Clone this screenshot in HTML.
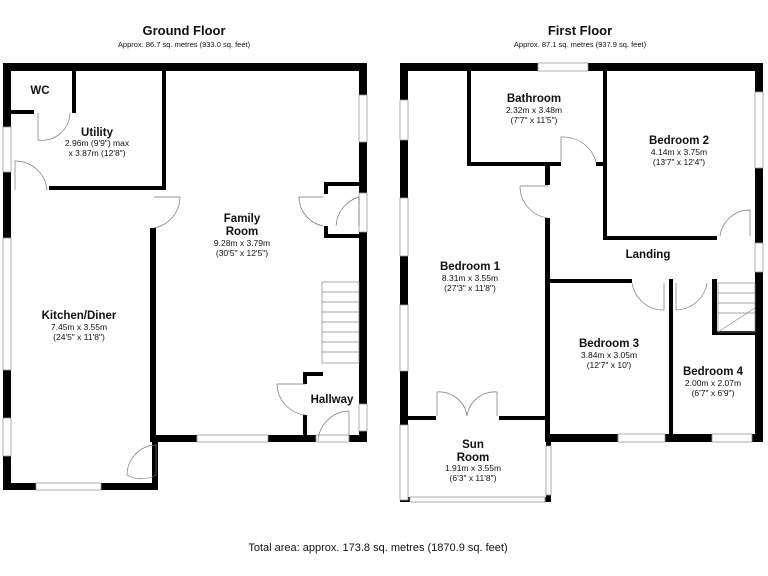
<!DOCTYPE html>
<html><head><meta charset="utf-8"><style>
body{margin:0;background:#fff}
svg{display:block}
text{font-family:"Liberation Sans",sans-serif;fill:#111;text-anchor:middle}
.t{font-weight:bold;font-size:13px}
.s{font-size:7.5px}
.r{font-weight:bold;font-size:11.5px}
.d{font-size:8.5px}
</style></head><body>
<svg width="768" height="576" viewBox="0 0 768 576">
<g fill="#000">
<!-- Ground floor walls -->
<rect x="3" y="63" width="364" height="8"/>
<rect x="3" y="63" width="8" height="427"/>
<rect x="359" y="63" width="8" height="379"/>
<rect x="152" y="435" width="215" height="7"/>
<rect x="3" y="483" width="155" height="7"/>
<rect x="150" y="228" width="6" height="214"/>
<rect x="152" y="442" width="6" height="48"/>
<rect x="72" y="71" width="4" height="42"/>
<rect x="11" y="110" width="23" height="4"/>
<rect x="49" y="186" width="117" height="4"/>
<rect x="162" y="71" width="4" height="119"/>
<rect x="303" y="372" width="20" height="4"/>
<rect x="303" y="372" width="4" height="12"/>
<rect x="303" y="415" width="4" height="22"/>
<rect x="324" y="182" width="36" height="4"/>
<rect x="324" y="182" width="4" height="12"/>
<rect x="324" y="226" width="4" height="12"/>
<rect x="324" y="234" width="36" height="4"/>
<!-- First floor walls -->
<rect x="400" y="63" width="363" height="8"/>
<rect x="400" y="63" width="8" height="439"/>
<rect x="755" y="63" width="8" height="379"/>
<rect x="545" y="434" width="218" height="8"/>
<rect x="467" y="71" width="4" height="95"/>
<rect x="467" y="162" width="94" height="4"/>
<rect x="596" y="162" width="11" height="4"/>
<rect x="603" y="71" width="4" height="169"/>
<rect x="603" y="236" width="114" height="4"/>
<rect x="545" y="166" width="5" height="19"/>
<rect x="545" y="218" width="5" height="224"/>
<rect x="407" y="416" width="29" height="4"/>
<rect x="499" y="416" width="48" height="4"/>
<rect x="550" y="279" width="82" height="4"/>
<rect x="669" y="279" width="4" height="155"/>
<rect x="712" y="279" width="5" height="56"/>
<rect x="712" y="331" width="43" height="4"/>
<rect x="400" y="497" width="151" height="5"/>
<rect x="546" y="442" width="5" height="60"/>
</g>
<!-- windows -->
<g fill="#fff" stroke="#999" stroke-width="0.8">
<rect x="3" y="127" width="8" height="45"/>
<rect x="3" y="238" width="8" height="132"/>
<rect x="3" y="418" width="8" height="38"/>
<rect x="359" y="95" width="8" height="47"/>
<rect x="359" y="193" width="8" height="39"/>
<rect x="359" y="404" width="8" height="27"/>
<rect x="197" y="435" width="71" height="7"/>
<rect x="36" y="483" width="65" height="7"/>
<rect x="316" y="435" width="33" height="7"/>
<rect x="400" y="100" width="8" height="40"/>
<rect x="400" y="198" width="8" height="58"/>
<rect x="400" y="305" width="8" height="66"/>
<rect x="400" y="425" width="8" height="75"/>
<rect x="538" y="63" width="50" height="8"/>
<rect x="755" y="92" width="8" height="76"/>
<rect x="755" y="243" width="8" height="29"/>
<rect x="618" y="434" width="47" height="8"/>
<rect x="712" y="434" width="40" height="8"/>
<rect x="546" y="446" width="5" height="49"/>
<rect x="410" y="497" width="135" height="5"/>
</g>
<!-- doors -->
<g fill="none" stroke="#777" stroke-width="0.7">
<path d="M38 113 V140 A28 28 0 0 0 70 113"/>
<path d="M15 161 A32 32 0 0 1 47 190 M15 161 V190"/>
<path d="M154 197 H180 A32 32 0 0 1 154 228"/>
<path d="M323 197 H299 A30 30 0 0 0 323 226"/>
<path d="M359 197 A32 32 0 0 0 336 226 M359 197 V226"/>
<path d="M305 384 H277 A32 32 0 0 0 305 415"/>
<path d="M349 411 A32 32 0 0 0 318 441 M349 411 V441"/>
<path d="M156 445 V475 A30 30 0 0 1 127 475 A30 30 0 0 1 156 445"/>
<path d="M561 162 V137 A34 34 0 0 1 596 162"/>
<path d="M548 186 H520 A32 32 0 0 0 548 218"/>
<path d="M720 236 A30 30 0 0 1 750 210 V236"/>
<path d="M632 283 A32 32 0 0 0 664 310 V283"/>
<path d="M676 283 V310 A32 32 0 0 0 707 283"/>
<path d="M437 416 V392 A28 28 0 0 1 467 416 A28 28 0 0 1 497 392 V416"/>
</g>
<!-- stairs -->
<g fill="none" stroke="#888" stroke-width="0.7">
<rect x="322" y="282" width="37" height="81"/>
<path d="M322 292H359M322 302H359M322 312H359M322 322H359M322 332H359M322 342H359M322 352H359"/>
<rect x="718" y="283" width="37" height="49"/>
<path d="M718 293H755M718 303H755M718 313H755M718 332 L755 308"/>
</g>
<!-- text -->
<text x="184" y="35" class="t">Ground Floor</text>
<text x="184" y="47" class="s">Approx. 86.7 sq. metres (933.0 sq. feet)</text>
<text x="580" y="35" class="t">First Floor</text>
<text x="580" y="47" class="s">Approx. 87.1 sq. metres (937.9 sq. feet)</text>
<text x="40" y="94" class="r">WC</text>
<text x="97" y="136" class="r">Utility</text>
<text x="97" y="146" class="d">2.96m (9'9") max</text>
<text x="97" y="156" class="d">x 3.87m (12'8")</text>
<text x="242" y="222" class="r">Family</text>
<text x="242" y="235" class="r">Room</text>
<text x="242" y="246" class="d">9.28m x 3.79m</text>
<text x="242" y="256" class="d">(30'5" x 12'5")</text>
<text x="79" y="319" class="r">Kitchen/Diner</text>
<text x="79" y="330" class="d">7.45m x 3.55m</text>
<text x="79" y="340" class="d">(24'5" x 11'8")</text>
<text x="332" y="403" class="r">Hallway</text>
<text x="534" y="102" class="r">Bathroom</text>
<text x="534" y="113" class="d">2.32m x 3.48m</text>
<text x="534" y="123" class="d">(7'7" x 11'5")</text>
<text x="679" y="144" class="r">Bedroom 2</text>
<text x="679" y="155" class="d">4.14m x 3.75m</text>
<text x="679" y="165" class="d">(13'7" x 12'4")</text>
<text x="648" y="258" class="r">Landing</text>
<text x="470" y="270" class="r">Bedroom 1</text>
<text x="470" y="281" class="d">8.31m x 3.55m</text>
<text x="470" y="291" class="d">(27'3" x 11'8")</text>
<text x="609" y="347" class="r">Bedroom 3</text>
<text x="609" y="358" class="d">3.84m x 3.05m</text>
<text x="609" y="368" class="d">(12'7" x 10')</text>
<text x="713" y="375" class="r">Bedroom 4</text>
<text x="713" y="386" class="d">2.00m x 2.07m</text>
<text x="713" y="396" class="d">(6'7" x 6'9")</text>
<text x="473" y="448" class="r">Sun</text>
<text x="473" y="461" class="r">Room</text>
<text x="473" y="471" class="d">1.91m x 3.55m</text>
<text x="473" y="481" class="d">(6'3" x 11'8")</text>
<text x="378" y="551" style="font-size:11px">Total area: approx. 173.8 sq. metres (1870.9 sq. feet)</text>
</svg>
</body></html>
